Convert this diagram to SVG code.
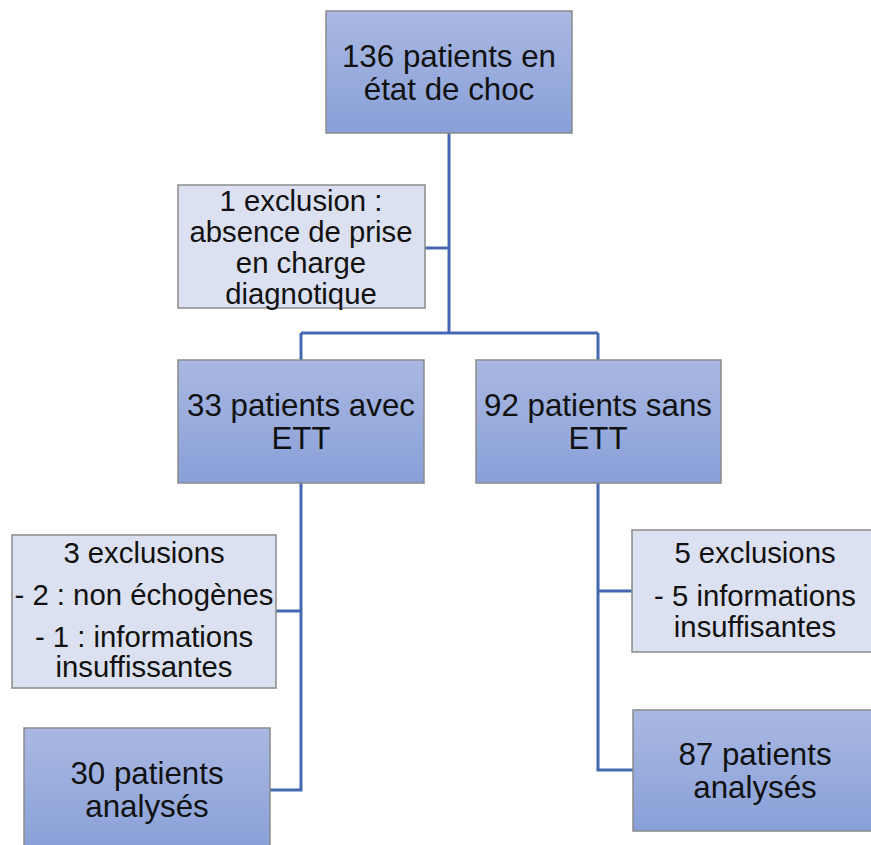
<svg xmlns="http://www.w3.org/2000/svg" width="871" height="845" viewBox="0 0 871 845">
<defs>
<linearGradient id="g" x1="0" y1="0" x2="0" y2="1">
<stop offset="0" stop-color="#aab8e2"/>
<stop offset="1" stop-color="#88a0d8"/>
</linearGradient>
<style>
.main{fill:url(#g);stroke:#8a8a8a;stroke-width:1.5}
.exc{fill:#dbe1f0;stroke:#8a8a8a;stroke-width:1.5}
text{font-family:"Liberation Sans",Arial,sans-serif;fill:#111;text-anchor:middle}
.t1{font-size:31.3px}
.t2{font-size:29.3px}
.c{fill:none;stroke:#4468b0;stroke-width:3}
</style>
</defs>
<rect width="871" height="845" fill="#fff"/>
<g id="connectors">
<path class="c" d="M449,133 V333 M425,248 H449 M301,333 H598 M301,333 V360 M598,333 V360"/>
<path class="c" d="M301,483 V790 H270 M276,611 H301"/>
<path class="c" d="M598,483 V770 H633 M598,591 H632"/>
</g>
<g id="n136">
<rect class="main" x="326" y="11" width="246" height="122"/>
<text class="t1" x="449" y="67">136 patients en</text>
<text class="t1" x="449" y="100">état de choc</text>
</g>
<g id="exc1">
<rect class="exc" x="178" y="185" width="247" height="123"/>
<text class="t2" x="301" y="211">1 exclusion :</text>
<text class="t2" x="301" y="242">absence de prise</text>
<text class="t2" x="301" y="273">en charge</text>
<text class="t2" x="301" y="304">diagnotique</text>
</g>
<g id="n33">
<rect class="main" x="178" y="360" width="246" height="123"/>
<text class="t1" x="301" y="416">33 patients avec</text>
<text class="t1" x="301" y="449">ETT</text>
</g>
<g id="n92">
<rect class="main" x="476" y="360" width="245" height="123"/>
<text class="t1" x="598" y="416">92 patients sans</text>
<text class="t1" x="598" y="449">ETT</text>
</g>
<g id="exc3">
<rect class="exc" x="12" y="535" width="264" height="153"/>
<text class="t2" x="144" y="563">3 exclusions</text>
<text class="t2" x="144" y="605">- 2 : non échogènes</text>
<text class="t2" x="144" y="647">- 1 : informations</text>
<text class="t2" x="144" y="677">insuffissantes</text>
</g>
<g id="exc5">
<rect class="exc" x="632" y="530" width="245" height="122"/>
<text class="t2" x="755" y="563">5 exclusions</text>
<text class="t2" x="755" y="606">- 5 informations</text>
<text class="t2" x="755" y="637">insuffisantes</text>
</g>
<g id="n30">
<rect class="main" x="24" y="728" width="246" height="125"/>
<text class="t1" x="147" y="784">30 patients</text>
<text class="t1" x="147" y="817">analysés</text>
</g>
<g id="n87">
<rect class="main" x="633" y="710" width="245" height="121"/>
<text class="t1" x="755" y="765">87 patients</text>
<text class="t1" x="755" y="798">analysés</text>
</g>
</svg>
